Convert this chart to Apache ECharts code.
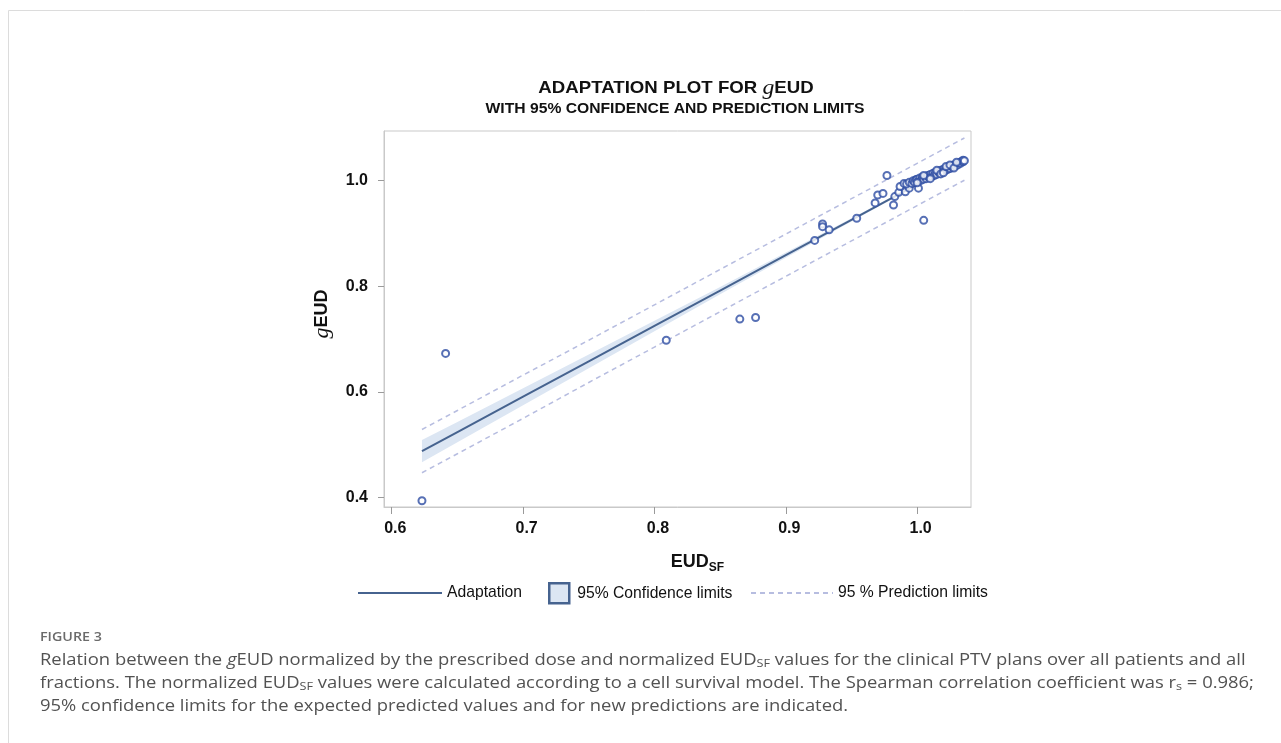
<!DOCTYPE html>
<html lang="en">
<head>
    <meta charset="UTF-8">
    <title>Adaptation plot for gEUD</title>
    <script src="https://cdn.jsdelivr.net/npm/echarts@6/dist/echarts.min.js"></script>
    <style>
        html, body { margin: 0; padding: 0; background: #fff; }
        #main { width: 1281px; height: 743px; }
    </style>
</head>
<body>
<div id="main"></div>
<script>
    // fitted line, confidence band and prediction limits
    var fitX = [0.623, 0.65, 0.70, 0.75, 0.80, 0.85, 0.90, 0.95, 1.00, 1.036];
    var fitY = [0.488, 0.524, 0.591, 0.658, 0.725, 0.792, 0.859, 0.926, 0.993, 1.041];
    var confLower = [0.467, 0.505, 0.575, 0.645, 0.715, 0.785, 0.854, 0.923, 0.991, 1.038];
    var confUpper = [0.509, 0.543, 0.607, 0.671, 0.735, 0.799, 0.864, 0.929, 0.995, 1.044];
    var predLower = [0.447, 0.483, 0.550, 0.618, 0.685, 0.752, 0.819, 0.886, 0.953, 1.001];
    var predUpper = [0.529, 0.565, 0.632, 0.698, 0.765, 0.832, 0.899, 0.966, 1.033, 1.081];

    // observations [EUDsf, gEUD]
    var outliers = [
        [0.623, 0.394], [0.641, 0.673], [0.809, 0.698], [0.865, 0.738], [0.877, 0.741],
        [0.922, 0.887], [0.928, 0.918], [0.928, 0.913], [0.933, 0.907], [0.954, 0.929],
        [0.968, 0.958], [0.970, 0.973], [0.974, 0.976], [0.977, 1.010], [0.982, 0.954],
        [0.983, 0.970], [0.986, 0.978], [0.987, 0.989], [0.990, 0.995], [0.991, 0.979],
        [0.994, 0.986], [1.001, 0.986], [1.005, 0.925]
    ];
    var cluster = [
        [0.992, 0.994], [0.994, 0.997], [0.996, 0.995], [0.997, 1.000], [0.998, 0.997],
        [0.999, 1.002], [1.000, 1.003], [1.001, 0.999], [1.002, 1.005], [1.003, 1.001],
        [1.004, 1.007], [1.005, 1.003], [1.006, 1.008], [1.007, 1.004], [1.008, 1.010],
        [1.009, 1.006], [1.010, 1.012], [1.011, 1.008], [1.012, 1.014], [1.013, 1.010],
        [1.014, 1.016], [1.015, 1.012], [1.016, 1.018], [1.017, 1.014], [1.018, 1.020],
        [1.019, 1.017], [1.020, 1.022], [1.021, 1.019], [1.022, 1.024], [1.023, 1.021],
        [1.024, 1.026], [1.025, 1.023], [1.026, 1.028], [1.027, 1.026], [1.028, 1.030],
        [1.029, 1.028], [1.030, 1.032], [1.031, 1.030], [1.032, 1.034], [1.033, 1.033],
        [1.034, 1.037], [1.035, 1.036], [1.035, 1.039], [1.036, 1.038],
        [1.000, 0.996], [1.005, 1.010], [1.010, 1.004], [1.015, 1.020], [1.018, 1.013],
        [1.020, 1.015], [1.022, 1.027], [1.025, 1.030], [1.028, 1.024], [1.030, 1.035]
    ];

    var xTicks = [0.6, 0.7, 0.8, 0.9, 1.0];
    var yTicks = [0.4, 0.6, 0.8, 1.0];

    function pairs(xs, ys) {
        var out = [];
        for (var i = 0; i < xs.length; i++) {
            out.push([xs[i], ys[i]]);
        }
        return out;
    }

    var lineColor = '#46638f';
    var dotColor = '#2d4ca3';
    var predColor = '#b7bde0';
    var bandColor = '#dce6f3';
    var labelFont = 'Liberation Sans, Arial, sans-serif';
    var capFont = 'Open Sans, sans-serif';
    var serif = 'Liberation Serif, Times New Roman, serif';

    // band between the two confidence limits, drawn as one polygon
    function renderBand(params, api) {
        var pts = [];
        for (var i = 0; i < fitX.length; i++) {
            pts.push(api.coord([fitX[i], confUpper[i]]));
        }
        for (var j = fitX.length - 1; j >= 0; j--) {
            pts.push(api.coord([fitX[j], confLower[j]]));
        }
        return {
            type: 'polygon',
            shape: { points: pts },
            style: { fill: bandColor, stroke: 'none' }
        };
    }

    var legendText = { fontFamily: labelFont, fontSize: 15.7, color: '#111' };

    var myChart = echarts.init(document.getElementById('main'));
    var option = {
        backgroundColor: '#fff',
        animation: false,
        grid: {
            left: 384, right: 310, top: 131, bottom: 236,
            show: true, borderColor: '#c9c9c9', borderWidth: 1
        },
        legend: [
            {
                data: ['Adaptation'], left: 357, top: 585, padding: 0,
                itemWidth: 84, itemHeight: 14, selectedMode: false, textStyle: legendText,
                itemStyle: { opacity: 0 }
            },
            {
                data: [{
                    name: '95% Confidence limits', icon: 'rect',
                    itemStyle: { color: bandColor, borderColor: lineColor, borderWidth: 2.5 }
                }],
                left: 548, top: 582, padding: 0,
                itemWidth: 20, itemHeight: 20, selectedMode: false,
                textStyle: { fontFamily: labelFont, fontSize: 15.7, color: '#111', padding: [0, 0, 0, 3] }
            },
            {
                data: ['95 % Prediction limits'], left: 750, top: 585, padding: 0,
                itemWidth: 82, itemHeight: 14, selectedMode: false, textStyle: legendText,
                itemStyle: { opacity: 0 }
            }
        ],
        xAxis: {
            type: 'value', min: 0.5941, max: 1.041,
            splitLine: { show: false },
            axisLine: { show: true, lineStyle: { color: '#c9c9c9' } },
            axisTick: { show: true, length: 7, customValues: xTicks, lineStyle: { color: '#9a9a9a' } },
            axisLabel: {
                customValues: xTicks, margin: 14, padding: [0, 0, 0, 7],
                fontFamily: labelFont, fontSize: 16, fontWeight: 'bold', color: '#111',
                formatter: function (v) { return v.toFixed(1); }
            },
            name: '{a|EUD}{s|SF}', nameLocation: 'middle', nameGap: 44,
            nameTextStyle: {
                padding: [0, 0, 0, 40],
                rich: {
                    a: { fontFamily: labelFont, fontSize: 18, fontWeight: 'bold', color: '#111' },
                    s: { fontFamily: labelFont, fontSize: 12, fontWeight: 'bold', color: '#111', padding: [11, 0, 0, 0] }
                }
            }
        },
        yAxis: {
            type: 'value', min: 0.3822, max: 1.0942,
            splitLine: { show: false },
            axisLine: { show: true, lineStyle: { color: '#c9c9c9' } },
            axisTick: { show: true, length: 6, customValues: yTicks, lineStyle: { color: '#9a9a9a' } },
            axisLabel: {
                customValues: yTicks, margin: 16,
                fontFamily: labelFont, fontSize: 16, fontWeight: 'bold', color: '#111',
                formatter: function (v) { return v.toFixed(1); }
            },
            name: '{g|g}{a|EUD}', nameLocation: 'middle', nameGap: 51, nameRotate: 90,
            nameTextStyle: {
                padding: [0, 0, 0, 10],
                rich: {
                    g: { fontFamily: serif, fontStyle: 'italic', fontSize: 22, color: '#111' },
                    a: { fontFamily: labelFont, fontSize: 18, fontWeight: 'bold', color: '#111' }
                }
            }
        },
        graphic: [
            {
                type: 'rect', silent: true, z: -10,
                shape: { x: 8.5, y: 10.5, width: 1300, height: 800 },
                style: { fill: 'none', stroke: '#dcdcdc', lineWidth: 1 }
            },
            {
                type: 'text', x: 676, y: 88, scaleX: 1.13, silent: true,
                style: {
                    text: '{a|ADAPTATION PLOT FOR }{g|g}{a|EUD}',
                    textAlign: 'center', textVerticalAlign: 'middle',
                    rich: {
                        a: { fontFamily: labelFont, fontSize: 16.5, fontWeight: 'bold', fill: '#111' },
                        g: { fontFamily: serif, fontStyle: 'italic', fontSize: 21, fill: '#111' }
                    }
                }
            },
            {
                type: 'text', x: 675, y: 109, scaleX: 1.12, silent: true,
                style: {
                    text: 'WITH 95% CONFIDENCE AND PREDICTION LIMITS',
                    textAlign: 'center', textVerticalAlign: 'middle',
                    fontFamily: labelFont, fontSize: 14, fontWeight: 'bold', fill: '#111'
                }
            },
            {
                type: 'text', x: 40, y: 637, scaleX: 1.1, silent: true,
                style: {
                    text: 'FIGURE 3', textVerticalAlign: 'middle',
                    fontFamily: capFont, fontSize: 13, fontWeight: 600, fill: '#6b6b6b'
                }
            },
            {
                type: 'text', x: 40, y: 660, scaleX: 1.15, silent: true,
                style: {
                    text: '{t|Relation between the }{i|g}{t|EUD normalized by the prescribed dose and normalized EUD}{s|SF}{t| values for the clinical PTV plans over all patients and all}',
                    textVerticalAlign: 'middle',
                    rich: {
                        t: { fontFamily: capFont, fontSize: 16, fill: '#525252' },
                        i: { fontFamily: capFont, fontStyle: 'italic', fontSize: 16, fill: '#525252' },
                        s: { fontFamily: capFont, fontSize: 11, fill: '#525252', padding: [8, 0, 0, 0] }
                    }
                }
            },
            {
                type: 'text', x: 40, y: 683, scaleX: 1.15, silent: true,
                style: {
                    text: '{t|fractions. The normalized EUD}{s|SF}{t| values were calculated according to a cell survival model. The Spearman correlation coefficient was r}{s|s}{t| = 0.986;}',
                    textVerticalAlign: 'middle',
                    rich: {
                        t: { fontFamily: capFont, fontSize: 16, fill: '#525252' },
                        s: { fontFamily: capFont, fontSize: 11, fill: '#525252', padding: [8, 0, 0, 0] }
                    }
                }
            },
            {
                type: 'text', x: 40, y: 706, scaleX: 1.15, silent: true,
                style: {
                    text: '95% confidence limits for the expected predicted values and for new predictions are indicated.',
                    textVerticalAlign: 'middle',
                    fontFamily: capFont, fontSize: 16, fill: '#525252'
                }
            }
        ],
        series: [
            {
                name: '95% Confidence limits', type: 'custom', data: [0],
                renderItem: renderBand, silent: true, z: 1,
                itemStyle: { color: bandColor }
            },
            {
                name: '95 % Prediction limits', type: 'line', data: pairs(fitX, predUpper),
                symbol: 'none', itemStyle: { color: predColor }, z: 2,
                lineStyle: { color: predColor, width: 1.5, type: [5, 4] }
            },
            {
                name: '95 % Prediction limits', type: 'line', data: pairs(fitX, predLower),
                symbol: 'none', itemStyle: { color: predColor }, z: 2,
                lineStyle: { color: predColor, width: 1.5, type: [5, 4] }
            },
            {
                name: 'Adaptation', type: 'line', data: pairs(fitX, fitY),
                symbol: 'none', itemStyle: { color: lineColor }, z: 3,
                lineStyle: { color: lineColor, width: 2 }
            },
            {
                name: 'obs', type: 'scatter', data: outliers.concat(cluster),
                symbol: 'emptyCircle', symbolSize: 7, z: 5,
                itemStyle: { color: dotColor, borderColor: dotColor, borderWidth: 1.7 }
            }
        ]
    };
    myChart.setOption(option);
</script>
</body>
</html>
